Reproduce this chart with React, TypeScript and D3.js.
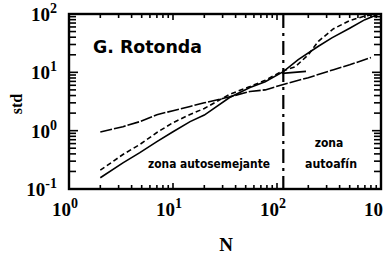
import React from 'react';
import * as d3 from 'd3';

// curva de pendiente baja (autoafín)
const nShallow = [2, 3.3, 4.8, 7, 10, 14.6, 20, 35, 55, 77, 115, 200, 350, 500, 800];
const stdShallow = [0.95, 1.17, 1.43, 1.88, 2.2, 2.6, 3.0, 3.8, 4.7, 5.0, 6.2, 8.1, 11.1, 13.5, 17.9];

// curva continua de pendiente alta
const nSolid = [2, 3.3, 4.8, 7, 10, 14.6, 20, 35, 55, 77, 115, 160, 250, 337, 500, 700, 930];
const stdSolid = [0.156, 0.28, 0.42, 0.65, 0.96, 1.43, 1.85, 3.7, 5.5, 6.9, 10.3, 16.5, 28, 39, 57, 80, 98];

// curva discontinua
const nDashed = [2, 3.3, 4.8, 7, 10, 14.6, 20, 35, 55, 77, 115, 150, 200, 250, 350, 500, 700, 900];
const stdDashed = [0.21, 0.39, 0.58, 0.93, 1.37, 1.9, 2.4, 4.2, 5.7, 7.3, 10.7, 12.5, 20, 34, 56, 77, 92, 100];

// tramo corto
const nSeg = [112, 190];
const stdSeg = [9.6, 10.4];

const xDecades = [1, 10, 100, 1000];
const xExp = ['0', '1', '2', '3'];
const yDecades = [0.1, 1, 10, 100];
const yExp = ['-1', '0', '1', '2'];
const crossover = 115;

const W = 383;
const H = 259;

export default function App() {
  const x = d3.scaleLog().domain([1, 1000]).range([69, 381]);
  const y = d3.scaleLog().domain([0.1, 100]).range([189, 14]);
  const [x0, x1] = x.range();
  const [y0, y1] = y.range();

  const line = d3.line<[number, number]>()
    .x(d => x(d[0]))
    .y(d => y(d[1]));

  const path = (ns: number[], vs: number[]) => line(ns.map((n, i) => [n, vs[i]]) as [number, number][]) || '';

  const xTicks = x.ticks();
  const yTicks = y.ticks();
  const isMajor = (v: number) => Math.abs(Math.log10(v) - Math.round(Math.log10(v))) < 1e-6;

  const serif = 'Liberation Serif, DejaVu Serif, serif';
  const cond = 'DejaVu Sans Condensed, DejaVu Sans, sans-serif';

  return (
    <svg width={W} height={H} style={{ position: 'absolute', left: 0, top: 0, background: '#fff' }}>
      {/* ticks */}
      <g stroke="#000" strokeWidth={1.6}>
        {xTicks.map((t, i) => {
          const len = isMajor(t) ? 6 : 4;
          return (
            <g key={'xt' + i}>
              <line x1={x(t)} x2={x(t)} y1={y0} y2={y0 - len} />
              <line x1={x(t)} x2={x(t)} y1={y1} y2={y1 + len} />
            </g>
          );
        })}
        {yTicks.map((t, i) => {
          const len = isMajor(t) ? 9 : 7;
          return (
            <g key={'yt' + i}>
              <line x1={x0} x2={x0 + len} y1={y(t)} y2={y(t)} />
              <line x1={x1} x2={x1 - len} y1={y(t)} y2={y(t)} />
            </g>
          );
        })}
      </g>
      {/* frame */}
      <rect x={x0} y={y1} width={x1 - x0} height={y0 - y1} fill="none" stroke="#000" strokeWidth={2.4} />

      {/* crossover line */}
      <line x1={x(crossover)} x2={x(crossover)} y1={y1} y2={y0}
        stroke="#000" strokeWidth={2.2} strokeDasharray="14,5,3,5" />

      {/* curves */}
      <g fill="none" stroke="#000" strokeWidth={1.6}>
        <path d={path(nShallow, stdShallow)} strokeDasharray="12,2" />
        <path d={path(nSolid, stdSolid)} />
        <path d={path(nDashed, stdDashed)} strokeDasharray="5,3" />
        <path d={path(nSeg, stdSeg)} />
      </g>

      {/* tick labels */}
      <g fontFamily={serif} fontWeight="bold" fill="#000">
        {xDecades.map((d, i) => (
          <text key={'xl' + i} x={x(d) - 17} y={216} fontSize={19}>
            10<tspan dy={-8} fontSize={14}>{xExp[i]}</tspan>
          </text>
        ))}
        {yDecades.map((d, i) => (
          <text key={'yl' + i} x={57} y={y(d) + 7} fontSize={19} textAnchor="end">
            10<tspan dy={-8} fontSize={14}>{yExp[i]}</tspan>
          </text>
        ))}
        <text x={226} y={251} fontSize={19} textAnchor="middle">N</text>
        <text transform="translate(22,104) rotate(-90)" fontSize={16} textAnchor="middle">std</text>
      </g>

      {/* annotations */}
      <text x={93} y={53} fontFamily={cond} fontWeight="bold" fontSize={18} textLength={109} lengthAdjust="spacingAndGlyphs">G. Rotonda</text>
      <g fontFamily={cond} fontWeight="bold" fontSize={12} fill="#000">
        <text x={148} y={168} textLength={122} lengthAdjust="spacingAndGlyphs">zona autosemejante</text>
        <text x={329} y={147} textAnchor="middle">zona</text>
        <text x={331} y={168} textAnchor="middle" textLength={52} lengthAdjust="spacingAndGlyphs">autoafín</text>
      </g>
    </svg>
  );
}
